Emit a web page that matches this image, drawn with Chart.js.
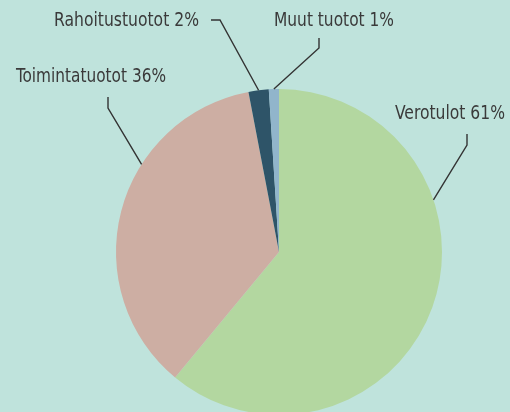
<!DOCTYPE html>
<html lang="fi">
<head>
    <meta charset="UTF-8">
    <title>Tuotot</title>
    <script src="https://cdn.jsdelivr.net/npm/chart.js"></script>
    <style>
        html, body {
            margin: 0;
            padding: 0;
            overflow: hidden;
            background-color: #bfe3dc;
        }
        .chart-container {
            position: relative;
            width: 510px;
            height: 420px;
        }
    </style>
</head>
<body>
    <div class="chart-container">
        <canvas id="pieChart"></canvas>
    </div>

<script>
// Data
const categories = ['Verotulot', 'Toimintatuotot', 'Rahoitustuotot', 'Muut tuotot'];
const shares = [61, 36, 2, 1];
const sliceColors = ['#b3d7a0', '#cdaea3', '#2e5468', '#91b5cb'];

// Label placement: where the leader touches the slice (fraction of slice), knee, end, text left/baseline/width
const labelLayout = [
    { at: 0.325, knee: [467, 145], end: [467, 134], text: [395, 119, 110] },
    { at: 0.64,  knee: [108, 108], end: [108, 97],  text: [16, 82, 150] },
    { at: 0.5,   knee: [220, 20],  end: [211, 20],  text: [54, 26, 145] },
    { at: 0.5,   knee: [319, 48],  end: [319, 38],  text: [274, 26, 120] }
];

const leaderLabels = {
    id: 'leaderLabels',
    afterDatasetsDraw(chart) {
        const ctx = chart.ctx;
        const arcs = chart.getDatasetMeta(0).data;
        ctx.save();
        arcs.forEach((arc, i) => {
            const p = arc.getProps(['x', 'y', 'startAngle', 'endAngle', 'outerRadius'], true);
            const lay = labelLayout[i];
            const a = p.startAngle + lay.at * (p.endAngle - p.startAngle);
            const ax = p.x + Math.cos(a) * p.outerRadius;
            const ay = p.y + Math.sin(a) * p.outerRadius;

            ctx.strokeStyle = '#333333';
            ctx.lineWidth = 1.4;
            ctx.beginPath();
            ctx.moveTo(ax, ay);
            ctx.lineTo(lay.knee[0], lay.knee[1]);
            ctx.lineTo(lay.end[0], lay.end[1]);
            ctx.stroke();

            // condensed look: squeeze text to the width it has in the original
            const label = categories[i] + ' ' + shares[i] + '%';
            ctx.fillStyle = '#3a3a3a';
            ctx.font = '20px "DejaVu Sans Condensed", "Liberation Sans", sans-serif';
            ctx.textBaseline = 'alphabetic';
            ctx.textAlign = 'left';
            const w = ctx.measureText(label).width;
            ctx.save();
            ctx.translate(lay.text[0], lay.text[1]);
            ctx.scale(lay.text[2] / w, 1);
            ctx.fillText(label, 0, 0);
            ctx.restore();
        });
        ctx.restore();
    }
};

new Chart(document.getElementById('pieChart'), {
    type: 'pie',
    data: {
        labels: categories,
        datasets: [{
            data: shares,
            backgroundColor: sliceColors,
            borderWidth: 0
        }]
    },
    options: {
        responsive: true,
        maintainAspectRatio: false,
        animation: false,
        layout: {
            padding: { top: 89, bottom: 5, left: 116, right: 68 }
        },
        plugins: {
            legend: { display: false },
            tooltip: { enabled: false }
        }
    },
    plugins: [leaderLabels]
});
</script>
</body>
</html>
